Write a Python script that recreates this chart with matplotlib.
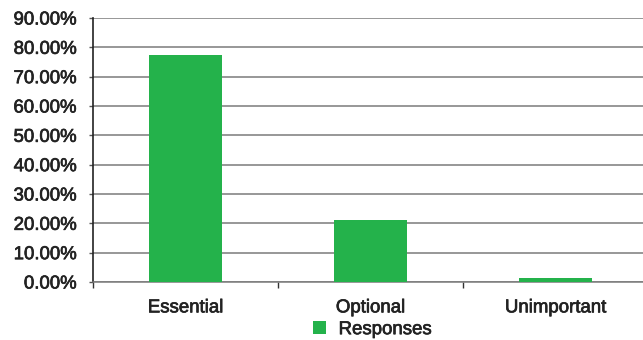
import matplotlib.pyplot as plt
import matplotlib.patheffects as pe
import numpy as np

categories = ["Essential", "Optional", "Unimportant"]
responses = [77.4, 21.1, 1.4]
yticks = [0, 10, 20, 30, 40, 50, 60, 70, 80, 90]

plt.rcParams['font.family'] = ['Liberation Sans', 'DejaVu Sans']

green = "#24b24b"
text_color = "#222222"
fsize = 13.4
# slight stroke to get the medium weight of the original
heavy = [pe.withStroke(linewidth=0.5, foreground=text_color)]

fig = plt.figure(figsize=(6.43, 3.40), dpi=100)
ax = fig.add_axes([93 / 643, 58 / 340, 555 / 643, 264 / 340])

x = np.arange(len(categories))
ax.bar(x, responses, width=0.39, color=green, label="Responses", zorder=3)

ax.set_xlim(-0.5, len(categories) - 0.5)
ax.set_ylim(0, 90)
ax.set_yticks(yticks)
ax.set_yticklabels([f"{v:.2f}%" for v in yticks])
ax.grid(axis="y", color="#7a7a7a", linewidth=1.1, zorder=0)

ax.set_xticks(x)
ax.set_xticklabels(categories)
ax.set_xticks(np.arange(-0.5, len(categories) - 0.5, 1), minor=True)
ax.tick_params(axis="x", which="major", length=0, pad=12.5, labelsize=fsize, labelcolor=text_color)
ax.tick_params(axis="x", which="minor", length=4, width=1, color="#333333")
ax.tick_params(axis="y", length=3, width=1, color="#555555", pad=8.5, labelsize=fsize, labelcolor=text_color)

for lbl in ax.get_xticklabels() + ax.get_yticklabels():
    lbl.set_path_effects(heavy)

for s in ["top", "right"]:
    ax.spines[s].set_visible(False)
ax.spines["left"].set_color("#222222")
ax.spines["left"].set_linewidth(1.2)
ax.spines["bottom"].set_color("#7a7a7a")
ax.spines["bottom"].set_linewidth(1.1)

leg = fig.legend(loc="center", bbox_to_anchor=(372 / 643, 10.5 / 340), frameon=False,
                 handlelength=0.75, handleheight=0.75, handletextpad=0.65,
                 borderpad=0, prop={"size": fsize}, labelcolor=text_color)
for t in leg.get_texts():
    t.set_path_effects(heavy)

fig.savefig("out.png", dpi=100)
